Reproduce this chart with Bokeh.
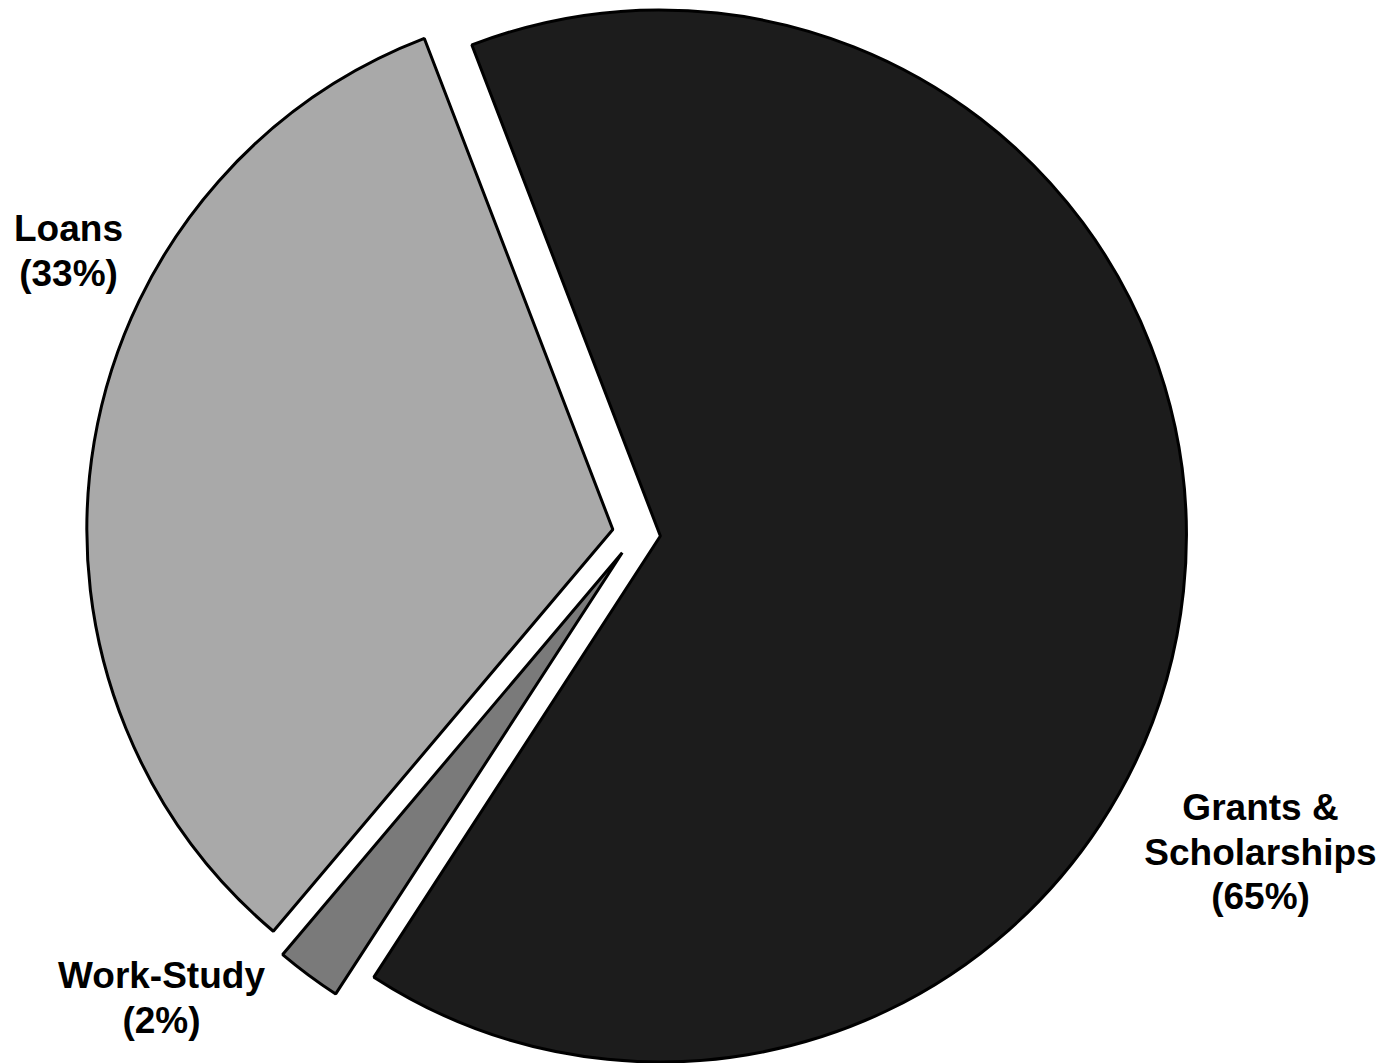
import math
from bokeh.plotting import figure
from bokeh.models import Range1d, ColumnDataSource
from bokeh.core.properties import value
from bokeh.embed import file_html
from bokeh.resources import INLINE

# ---- data ----
categories = ["Grants & Scholarships", "Loans", "Work-Study"]
shares = [65, 33, 2]
label_lines = [["Grants &", "Scholarships", "(65%)"], ["Loans", "(33%)"], ["Work-Study", "(2%)"]]
colors = ["#1c1c1c", "#a9a9a9", "#7a7a7a"]

# ---- layout (pixel-like data units) ----
W, H = 1386, 1063
cx, cy = 636.0, -533.0      # pie centre
radius = 526.0
explode = 24.0
start_deg = 111.0           # boundary between Grants (clockwise) and Loans

# Loans and Work-Study go anticlockwise from start; Grants fills the rest
order = [1, 2, 0]
angles = {}
a = start_deg
for i in order:
    span = shares[i] / 100.0 * 360.0
    angles[i] = (a, a + span)
    a += span

xs, ys, sa, ea, cols = [], [], [], [], []
for i in range(len(categories)):
    s, e = angles[i]
    mid = math.radians((s + e) / 2.0)
    xs.append(cx + explode * math.cos(mid))
    ys.append(cy + explode * math.sin(mid))
    sa.append(math.radians(s))
    ea.append(math.radians(e))
    cols.append(colors[i])

src = ColumnDataSource(dict(x=xs, y=ys, start=sa, end=ea, color=cols, cat=categories))

p = figure(width=W, height=H, output_backend="svg", toolbar_location=None,
           x_range=Range1d(0, W), y_range=Range1d(-H, 0),
           min_border=0, outline_line_color=None)
p.axis.visible = False
p.grid.visible = False
p.background_fill_color = "white"
p.border_fill_color = "white"

p.wedge(x="x", y="y", radius=radius, start_angle="start", end_angle="end",
        fill_color="color", line_color="black", line_width=3, source=src)

# label positions (centre x, first baseline y in screen px), line spacing
label_pos = [(1260, 807), (68, 228), (161, 975)]
line_gap = 44.5
tx, ty, tt = [], [], []
for i, lines in enumerate(label_lines):
    lx, ly = label_pos[i]
    for k, t in enumerate(lines):
        tx.append(lx)
        ty.append(-(ly + k * line_gap))
        tt.append(t)

p.text(x=tx, y=ty, text=tt, text_font=value("Liberation Sans"), text_font_style="bold",
       text_font_size="37px", text_align="center", text_baseline="alphabetic",
       text_color="black")

open("out.html", "w").write(file_html(p, INLINE))
